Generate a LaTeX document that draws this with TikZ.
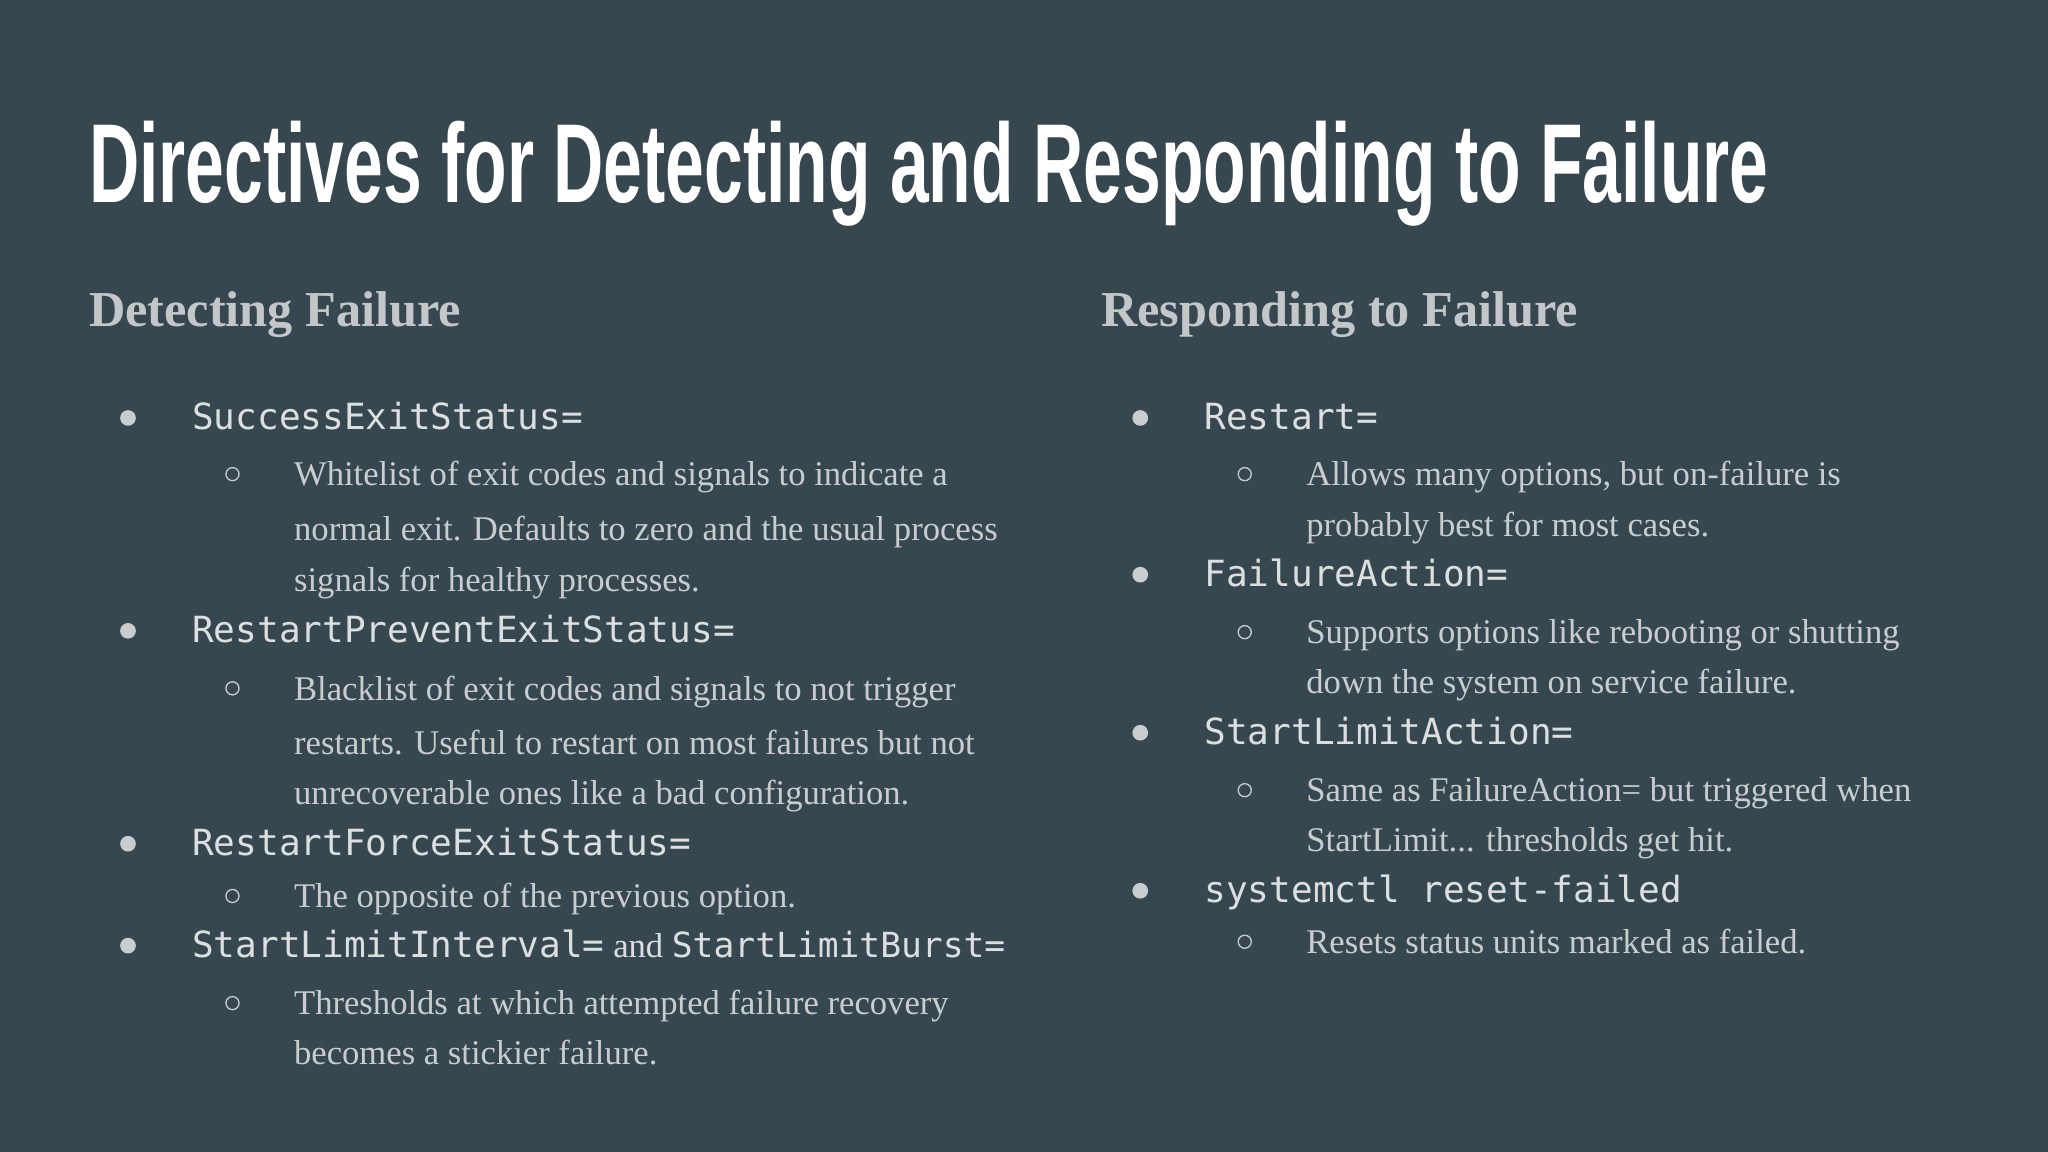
\documentclass[tikz,border=0pt]{standalone}
\usepackage{fontspec}
\setmainfont{Liberation Serif}
\newfontfamily\titlefont[FakeStretch=0.62]{Liberation Sans Bold}
\newfontfamily\monofont{DejaVu Sans Mono}
\definecolor{bg}{HTML}{37474F}
\definecolor{body}{HTML}{C9CDCF}
\definecolor{mono}{HTML}{DCDFE0}
\definecolor{head}{HTML}{C3C7C9}
\tikzset{
 txt/.style={anchor=base west,inner sep=0pt,text=body,font=\fontsize{26.5}{26}\selectfont},
 code/.style={anchor=base west,inner sep=0pt,text=mono,font=\fontsize{27.6}{26}\monofont},
 dotb/.style={fill=body,draw=none},
 ringb/.style={draw=body,line width=1pt,fill=none}
}
\newcommand{\mainitem}[4]{\fill[dotb] (#1,#3-9) circle (6); \node[code] at (#2,#3) {#4};}
\newcommand{\subring}[2]{\draw[ringb] (#1,#2-9) circle (5);}
\begin{document}
\begin{tikzpicture}[x=1pt,y=-1pt]
\fill[bg] (0,0) rectangle (1568,882);
\useasboundingbox (0,0) rectangle (1568,882);
\node[anchor=base west,inner sep=0pt,text=white,font=\fontsize{86}{86}\titlefont] (title) at (68,155) {Directives for Detecting and Responding to Failure};
\node[anchor=base west,inner sep=0pt,text=head,font=\fontsize{38.5}{40}\bfseries] (h1) at (68,250) {Detecting Failure};
\node[anchor=base west,inner sep=0pt,text=head,font=\fontsize{38.5}{40}\bfseries] (h2) at (843,250) {Responding to Failure};
% left
\mainitem{98}{147}{329}{SuccessExitStatus=}
\subring{178}{372}
\node[txt] at (225,372) {Whitelist of exit codes and signals to indicate a};
\node[txt] at (225,414) {normal exit. Defaults to zero and the usual process};
\node[txt] at (225,453) {signals for healthy processes.};
\mainitem{98}{147}{492}{RestartPreventExitStatus=}
\subring{178}{536}
\node[txt] at (225,536) {Blacklist of exit codes and signals to not trigger};
\node[txt] at (225,578) {restarts. Useful to restart on most failures but not};
\node[txt] at (225,616) {unrecoverable ones like a bad configuration.};
\mainitem{98}{147}{655}{RestartForceExitStatus=}
\subring{178}{695}
\node[txt] at (225,695) {The opposite of the previous option.};
\fill[dotb] (98,724) circle (6);
\node[code] at (147,733) {StartLimitInterval=\fontsize{26.5}{26}\rmfamily\ and\ \monofont StartLimitBurst=};
\subring{178}{777}
\node[txt] at (225,777) {Thresholds at which attempted failure recovery};
\node[txt] at (225,815) {becomes a stickier failure.};
% right
\mainitem{873}{922}{329}{Restart=}
\subring{953}{372}
\node[txt] at (1000,372) {Allows many options, but on-failure is};
\node[txt] at (1000,411) {probably best for most cases.};
\mainitem{873}{922}{449}{FailureAction=}
\subring{953}{493}
\node[txt] at (1000,493) {Supports options like rebooting or shutting};
\node[txt] at (1000,531) {down the system on service failure.};
\mainitem{873}{922}{570}{StartLimitAction=}
\subring{953}{614}
\node[txt] at (1000,614) {Same as FailureAction= but triggered when};
\node[txt] at (1000,652) {StartLimit... thresholds get hit.};
\mainitem{873}{922}{691}{systemctl reset-failed}
\subring{953}{730}
\node[txt] at (1000,730) {Resets status units marked as failed.};
\end{tikzpicture}
\end{document}
